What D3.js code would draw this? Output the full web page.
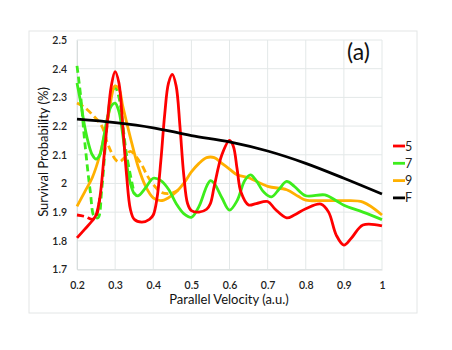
<!DOCTYPE html>
<html><head><meta charset="utf-8">
<script src="https://cdn.jsdelivr.net/npm/d3@7"></script>
<style>body{margin:0;background:#fff}svg{display:block}text{font-family:Lato,"Open Sans",sans-serif}</style>
</head><body><svg id="c" width="452" height="350"></svg>
<script>
const xTicks=[0.2,0.3,0.4,0.5,0.6,0.7,0.8,0.9,1];
const yTicks=[1.7,1.8,1.9,2,2.1,2.2,2.3,2.4,2.5];
const seriesNames=["5","7","9","F"];
const colors=["#ff0000","#3ded1c","#ffb000","#000000"];

const x5=[0.2,0.22,0.24,0.25,0.26,0.27,0.28,0.29,0.3,0.31,0.32,0.33,0.34,0.35,0.37,0.39,0.4,0.41,0.42,0.43,0.44,0.45,0.46,0.47,0.48,0.49,0.5,0.52,0.54,0.55,0.56,0.58,0.6,0.61,0.62,0.63,0.65,0.67,0.7,0.72,0.75,0.77,0.8,0.84,0.86,0.88,0.9,0.92,0.95,1.0];
const y5=[1.81,1.84,1.87,1.89,1.95,2.08,2.22,2.34,2.39,2.35,2.2,2.03,1.91,1.875,1.865,1.875,1.89,1.95,2.08,2.24,2.35,2.38,2.34,2.2,2.03,1.93,1.905,1.9,1.91,1.93,1.99,2.1,2.15,2.13,2.05,1.97,1.925,1.93,1.937,1.91,1.88,1.89,1.912,1.928,1.9,1.82,1.785,1.81,1.855,1.852];
const x7=[0.2,0.21,0.22,0.23,0.24,0.25,0.26,0.27,0.28,0.29,0.3,0.31,0.32,0.33,0.34,0.35,0.36,0.38,0.4,0.42,0.44,0.46,0.48,0.5,0.52,0.54,0.55,0.56,0.58,0.6,0.62,0.64,0.655,0.67,0.69,0.71,0.73,0.75,0.77,0.8,0.85,0.88,0.9,0.95,1.0];
const y7=[2.35,2.28,2.2,2.14,2.1,2.085,2.1,2.16,2.23,2.27,2.28,2.25,2.17,2.07,2.0,1.965,1.957,1.985,2.018,2.01,1.98,1.93,1.895,1.882,1.92,1.99,2.01,2.0,1.95,1.907,1.94,2.01,2.03,2.01,1.97,1.953,1.98,2.007,1.99,1.957,1.96,1.94,1.924,1.9,1.874];
const x9=[0.2,0.22,0.24,0.26,0.28,0.3,0.31,0.32,0.34,0.36,0.38,0.4,0.42,0.44,0.46,0.48,0.5,0.52,0.54,0.56,0.58,0.6,0.62,0.65,0.7,0.75,0.78,0.8,0.85,0.9,0.95,1.0];
const y9=[1.92,1.97,2.02,2.1,2.22,2.34,2.33,2.27,2.16,2.06,1.99,1.95,1.94,1.95,1.97,2.0,2.04,2.07,2.09,2.09,2.07,2.05,2.03,2.02,1.99,1.978,1.955,1.942,1.94,1.94,1.935,1.89];
const xF=[0.2,0.3,0.4,0.5,0.6,0.7,0.8,0.9,1.0];
const yF=[2.224,2.212,2.194,2.167,2.145,2.113,2.07,2.018,1.963];
// dashed companions (left region)
const x5d=[0.2,0.22,0.24,0.25,0.26];
const y5d=[1.89,1.885,1.875,1.885,1.95];
const x7d=[0.2,0.21,0.22,0.235,0.245,0.255,0.265,0.28,0.29,0.3,0.31,0.33,0.35];
const y7d=[2.41,2.3,2.15,1.97,1.885,1.88,1.98,2.22,2.31,2.335,2.3,2.1,1.965];
const x9d=[0.2,0.22,0.24,0.265,0.28,0.3,0.31,0.325,0.34,0.365,0.39,0.42,0.445,0.47];
const y9d=[2.28,2.265,2.24,2.2,2.14,2.085,2.075,2.09,2.112,2.075,2.015,1.97,1.965,1.98];

const svg=d3.select("#c");
const X=d3.scaleLinear().domain([0.2,1]).range([77,382]);
const Y=d3.scaleLinear().domain([1.7,2.5]).range([269.5,40]);

svg.append("rect").attr("x",29).attr("y",31).attr("width",388).attr("height",282)
  .attr("fill","none").attr("stroke","#e3e6e6").attr("stroke-width",1);

const grid=svg.append("g");
xTicks.forEach(t=>grid.append("line").attr("x1",X(t)).attr("x2",X(t)).attr("y1",Y(2.5)).attr("y2",Y(1.7)).attr("stroke","#e3e8e8").attr("stroke-width",1));
yTicks.forEach(t=>grid.append("line").attr("x1",X(0.2)).attr("x2",X(1)).attr("y1",Y(t)).attr("y2",Y(t)).attr("stroke","#e3e8e8").attr("stroke-width",1));

const xa=svg.append("g").attr("transform","translate(0,"+Y(1.7)+")")
  .call(d3.axisBottom(X).tickValues(xTicks).tickFormat(d3.format("~g")).tickSize(0).tickPadding(12));
const ya=svg.append("g").attr("transform","translate("+X(0.2)+",0)")
  .call(d3.axisLeft(Y).tickValues(yTicks).tickFormat(d3.format("~g")).tickSize(0).tickPadding(10));
[xa,ya].forEach(a=>{a.select(".domain").attr("stroke","#d9dede");a.selectAll("text").attr("font-size","10.5px").attr("fill","#222").attr("font-weight","600");});

const line=d3.line().x(d=>X(d[0])).y(d=>Y(d[1])).curve(d3.curveCatmullRom.alpha(0.5));
const zip=(a,b)=>a.map((v,i)=>[v,b[i]]);
const plot=svg.append("g");
const solids=[[x5,y5],[x7,y7],[x9,y9],[xF,yF]];
const dashes=[[x5d,y5d,0],[x7d,y7d,1],[x9d,y9d,2]];
dashes.forEach(([a,b,i])=>plot.append("path").attr("d",line(zip(a,b))).attr("fill","none").attr("stroke",colors[i]).attr("stroke-width",2.8).attr("stroke-dasharray","7,4"));
[2,1,0,3].forEach(i=>plot.append("path").attr("d",line(zip(solids[i][0],solids[i][1]))).attr("fill","none").attr("stroke",colors[i]).attr("stroke-width",2.8));

svg.append("text").attr("x",347).attr("y",60).attr("font-size","23px").attr("fill","#111").text("(a)");

const lg=svg.append("g");
seriesNames.forEach((n,i)=>{const yy=146+i*17.3;
  lg.append("line").attr("x1",393).attr("x2",405).attr("y1",yy).attr("y2",yy).attr("stroke",colors[i]).attr("stroke-width",2.8);
  lg.append("text").attr("x",405).attr("y",yy+4.5).attr("font-size","12.5px").attr("fill","#222").text(n);});

svg.append("text").attr("x",229).attr("y",304).attr("text-anchor","middle").attr("font-size","13px").attr("fill","#111").text("Parallel Velocity (a.u.)");
svg.append("text").attr("transform","translate(48,152) rotate(-90)").attr("text-anchor","middle").attr("font-size","13px").attr("fill","#111").text("Survival Probability (%)");
</script></body></html>
